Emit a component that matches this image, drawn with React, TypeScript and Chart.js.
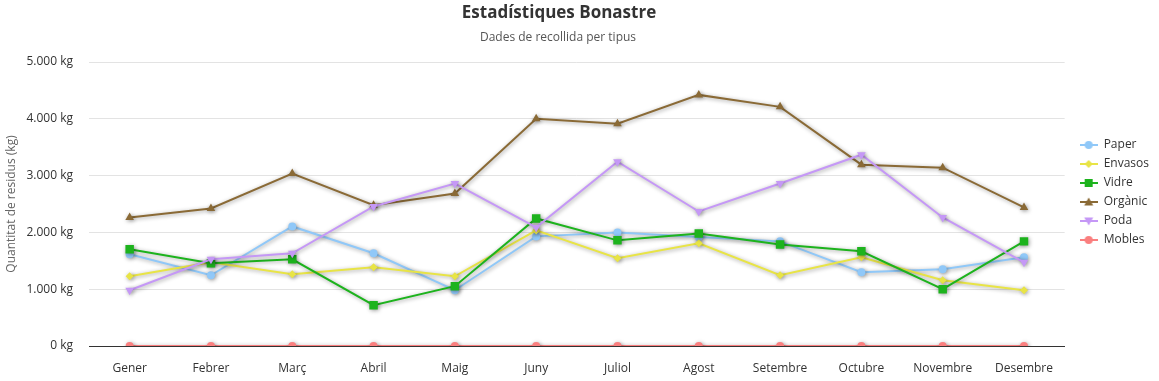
import React, { useEffect, useRef } from "react";
import { Chart, registerables } from "chart.js";

Chart.register(...registerables);

const months = ["Gener", "Febrer", "Març", "Abril", "Maig", "Juny", "Juliol", "Agost", "Setembre", "Octubre", "Novembre", "Desembre"];
const paper = [1614, 1245, 2105, 1632, 982, 1930, 2000, 1920, 1842, 1298, 1351, 1561];
const envasos = [1228, 1474, 1263, 1386, 1228, 2035, 1544, 1807, 1245, 1561, 1158, 982];
const vidre = [1702, 1456, 1526, 719, 1053, 2246, 1860, 1982, 1789, 1667, 1000, 1842];
const organic = [2263, 2421, 3035, 2480, 2684, 4000, 3912, 4421, 4210, 3193, 3140, 2439];
const poda = [982, 1526, 1632, 2456, 2860, 2088, 3246, 2368, 2860, 3368, 2263, 1474];
const mobles = [0, 0, 0, 0, 0, 0, 0, 0, 0, 0, 0, 0];

const titleText = "Estadístiques Bonastre";
const subtitleText = "Dades de recollida per tipus";
const yAxisTitle = "Quantitat de residus (kg)";

const FONT = "'Open Sans', 'Noto Sans', sans-serif";

function fmt(v: number) {
  const s = Math.round(v).toString().replace(/\B(?=(\d{3})+(?!\d))/g, ".");
  return s + " kg";
}

const seriesDefs = [
  { label: "Paper", data: paper, color: "#90c8f8", style: "circle", radius: 4, rotation: 0 },
  { label: "Envasos", data: envasos, color: "#e8e446", style: "rectRot", radius: 4, rotation: 0 },
  { label: "Vidre", data: vidre, color: "#1db31d", style: "rect", radius: 6, rotation: 0 },
  { label: "Orgànic", data: organic, color: "#8a6a36", style: "triangle", radius: 5, rotation: 0 },
  { label: "Poda", data: poda, color: "#c598f6", style: "triangle", radius: 5, rotation: 180 },
  { label: "Mobles", data: mobles, color: "#fa7f7f", style: "circle", radius: 4, rotation: 0 },
];

function legendIcon(color: string, style: string, rotation: number) {
  const c = document.createElement("canvas");
  c.width = 18;
  c.height = 12;
  const ctx = c.getContext("2d")!;
  ctx.strokeStyle = color;
  ctx.lineWidth = 2;
  ctx.beginPath();
  ctx.moveTo(0, 6);
  ctx.lineTo(18, 6);
  ctx.stroke();
  ctx.fillStyle = color;
  ctx.save();
  ctx.translate(9, 6);
  ctx.rotate((rotation * Math.PI) / 180);
  ctx.beginPath();
  if (style === "circle") {
    ctx.arc(0, 0, 4, 0, Math.PI * 2);
  } else if (style === "rectRot") {
    ctx.moveTo(0, -4);
    ctx.lineTo(4, 0);
    ctx.lineTo(0, 4);
    ctx.lineTo(-4, 0);
    ctx.closePath();
  } else if (style === "rect") {
    ctx.rect(-4, -4, 8, 8);
  } else if (style === "triangle") {
    ctx.moveTo(0, -4.5);
    ctx.lineTo(4.5, 3.5);
    ctx.lineTo(-4.5, 3.5);
    ctx.closePath();
  }
  ctx.fill();
  ctx.restore();
  return c;
}

const shadowPlugin = {
  id: "lineShadow",
  beforeDatasetDraw(chart: any) {
    const ctx = chart.ctx;
    ctx.save();
    ctx.shadowColor = "rgba(0,0,0,0.4)";
    ctx.shadowBlur = 4;
    ctx.shadowOffsetX = 1;
    ctx.shadowOffsetY = 1;
  },
  afterDatasetDraw(chart: any) {
    chart.ctx.restore();
  },
};

const titlePlugin = {
  id: "customTitle",
  afterDraw(chart: any) {
    const ctx = chart.ctx;
    ctx.save();
    ctx.textAlign = "center";
    ctx.textBaseline = "middle";
    ctx.fillStyle = "#333333";
    ctx.font = `bold 17px ${FONT}`;
    ctx.fillText(titleText, 559, 13);
    ctx.fillStyle = "#555555";
    ctx.font = `12px ${FONT}`;
    ctx.fillText(subtitleText, 558, 38);
    ctx.restore();
  },
};

export default function App() {
  const ref = useRef<HTMLCanvasElement | null>(null);

  useEffect(() => {
    document.body.style.margin = "0";
    const canvas = ref.current!;
    const datasets = seriesDefs.map((s, i) => ({
      label: s.label,
      data: s.data,
      borderColor: s.color,
      backgroundColor: s.color,
      pointBackgroundColor: s.color,
      pointBorderColor: s.color,
      pointStyle: s.style as any,
      pointRadius: s.radius,
      pointRotation: s.rotation,
      pointBorderWidth: 0,
      borderWidth: 2,
      tension: 0,
      order: -i,
      yAxisID: "y",
    }));
    const chart = new Chart(canvas, {
      type: "line",
      data: { labels: months, datasets },
      plugins: [shadowPlugin, titlePlugin],
      options: {
        animation: false,
        responsive: true,
        maintainAspectRatio: false,
        layout: { padding: { top: 62, left: 4, right: 0, bottom: 4 } },
        plugins: {
          title: { display: false },
          tooltip: { enabled: false },
          legend: {
            position: "right",
            align: "start",
            title: {
              display: true,
              text: " ",
              font: { family: FONT, size: 12 },
              padding: { top: 55.6, bottom: 0 },
            },
            labels: {
              usePointStyle: true,
              pointStyleWidth: 18,
              boxHeight: 12,
              padding: 7,
              color: "#333333",
              font: { family: FONT, size: 12 },
              sort: (a: any, b: any) => a.datasetIndex - b.datasetIndex,
              generateLabels: (ch: any) => {
                const items = (Chart.defaults.plugins.legend.labels as any).generateLabels(ch);
                return items.map((it: any) => {
                  const s = seriesDefs[it.datasetIndex];
                  return { ...it, pointStyle: legendIcon(s.color, s.style, s.rotation), rotation: 0 };
                });
              },
            },
          },
        },
        scales: {
          x: {
            offset: true,
            grid: { display: false, drawTicks: false },
            border: { display: true, color: "#333333", width: 1 },
            ticks: { color: "#333333", font: { family: FONT, size: 12 }, padding: 15, maxRotation: 0 },
            afterFit: (s: any) => {
              s.height = 31;
            },
          },
          y: {
            min: 0,
            max: 5000,
            grid: { color: "#e3e3e3", drawTicks: false },
            border: { display: false },
            ticks: {
              stepSize: 1000,
              color: "#333333",
              font: { family: FONT, size: 12 },
              padding: 16,
              callback: (v: any) => fmt(Number(v)),
            },
            title: {
              display: true,
              text: yAxisTitle,
              color: "#666666",
              font: { family: FONT, size: 12 },
              padding: { top: 0, bottom: 0 },
            },
            afterFit: (s: any) => {
              s.width = 85;
            },
          },
          gap: {
            type: "linear",
            position: "right",
            display: true,
            grid: { display: false, drawTicks: false },
            border: { display: false },
            ticks: { display: false },
            afterFit: (s: any) => {
              s.width = 8;
            },
          },
        },
      },
    });
    return () => chart.destroy();
  }, []);

  return (
    <div style={{ position: "relative", width: 1159, height: 381 }}>
      <canvas ref={ref} />
    </div>
  );
}
